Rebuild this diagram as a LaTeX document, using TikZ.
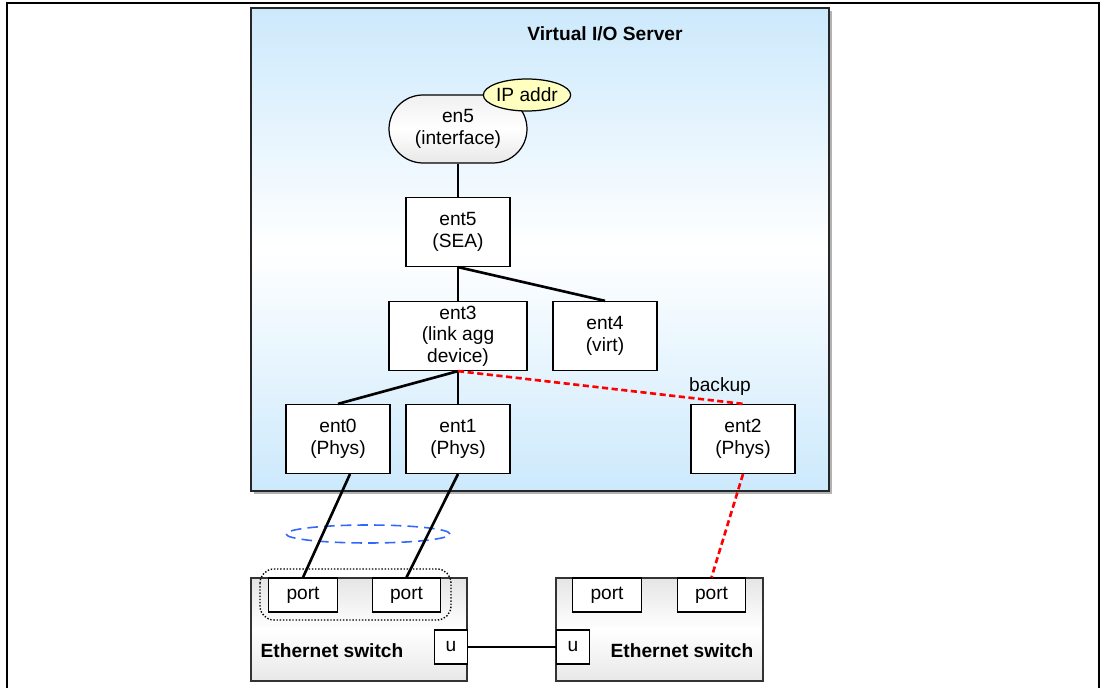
\documentclass[tikz,border=0pt]{standalone}
\usepackage{fontspec}
\setmainfont{Liberation Sans}
\usetikzlibrary{shapes.geometric}
\definecolor{vioblue}{RGB}{204,233,252}
\definecolor{ipyellow}{RGB}{255,255,192}
\definecolor{aggblue}{RGB}{51,102,255}
\tikzset{
  dev/.style={draw, fill=white, line width=0.7pt, minimum width=2.08cm, minimum height=1.38cm, align=center, inner sep=1pt},
  port/.style={draw, fill=white, line width=0.7pt, minimum width=1.37cm, minimum height=0.68cm, inner sep=0pt},
  uplink/.style={draw, fill=white, line width=0.7pt, minimum width=0.66cm, minimum height=0.68cm, inner sep=0pt},
  switchbox/.style={draw=black!80, line width=1pt, minimum height=2.06cm, top color=gray!20, bottom color=gray!18, middle color=white},
  wire/.style={line width=1.5pt},
  bkup/.style={red, line width=1.5pt, dash pattern=on 3.5pt off 2pt},
}
\begin{document}
\begin{tikzpicture}[x=0.02cm, y=-0.02cm, every node/.style={font=\fontsize{10.9}{12.2}\selectfont}]
\useasboundingbox (0,0) rectangle (1101,688);
% page frame
\draw [line width=1pt] (7,688) -- (7,3) -- (1099,3) -- (1099,688);
% Virtual I/O Server
\fill [gray!60] (254,11) rectangle (832,494);
\shade [top color=vioblue, bottom color=white] (251,8) rectangle (829,250);
\shade [top color=white, bottom color=vioblue] (251,250) rectangle (829,491);
\draw [black!85, line width=1.2pt] (251,8) rectangle (829,491);
\node (vios) at (605,34) {\bfseries Virtual I/O Server};
\node (en5) at (458,129) [draw, line width=0.7pt, rounded corners=0.68cm, minimum width=2.76cm, minimum height=1.36cm, align=center, top color=gray!12, bottom color=gray!18, middle color=white] {en5\\(interface)};
\node (ip) at (527,95) [ellipse, draw, line width=0.7pt, fill=ipyellow, minimum width=1.72cm, minimum height=0.64cm, inner sep=0pt] {IP addr};
\node (ent5) at (458,232) [dev] {ent5\\(SEA)};
\node (ent3) at (458,336) [dev, minimum width=2.76cm] {ent3\\(link agg\\device)};
\node (ent4) at (605,336) [dev] {ent4\\(virt)};
\node (ent0) at (338,439) [dev] {ent0\\(Phys)};
\node (ent1) at (458,439) [dev] {ent1\\(Phys)};
\node (ent2) at (743,439) [dev] {ent2\\(Phys)};
\node (bk) at (720,387) {backup};
\draw [wire] (en5.south) -- (ent5.north);
\draw [wire] (ent5.south) -- (ent3.north);
\draw [wire] (ent5.south) -- (ent4.north);
\draw [wire] (ent3.south) -- (ent0.north);
\draw [wire] (ent3.south) -- (ent1.north);
\draw [bkup] (ent3.south) -- (ent2.north);
% switches
\node (sw1) at (359,629.5) [switchbox, minimum width=4.32cm] {};
\node (sw2) at (659.5,629.5) [switchbox, minimum width=4.14cm] {};
\node (p1) at (303,595) [port] {port};
\node (p2) at (406.5,595) [port] {port};
\node (p3) at (607,595) [port] {port};
\node (p4) at (711.5,595) [port] {port};
\node (u1) at (451,647) [uplink] {u};
\node (u2) at (573,647) [uplink] {u};
\node (sw1lbl) at (332,651) {\bfseries Ethernet switch};
\node (sw2lbl) at (682,651) {\bfseries Ethernet switch};
\draw [densely dotted, line width=0.8pt, rounded corners=0.28cm] (260,569) rectangle (451,620);
\draw [aggblue, dash pattern=on 6pt off 3.5pt, line width=0.9pt] (368,534) ellipse [x radius=1.64cm, y radius=0.18cm];
\draw [wire] ([xshift=0.24cm]ent0.south) -- (p1.north);
\draw [wire] (ent1.south) -- (p2.north);
\draw [bkup] (ent2.south) -- (p4.north);
\draw [wire] (u1.east) -- (u2.west);
\end{tikzpicture}
\end{document}
